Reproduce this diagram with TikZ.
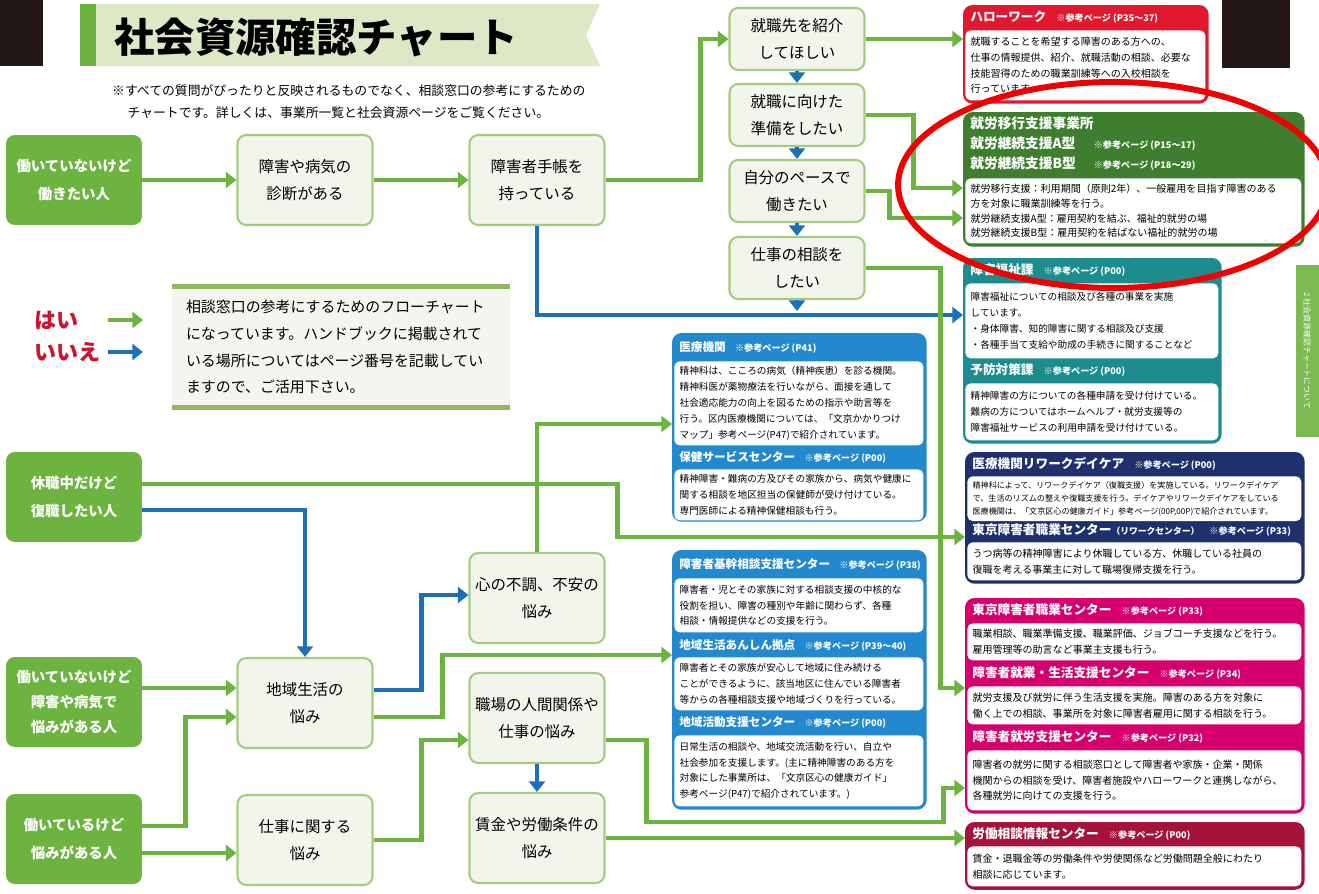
\documentclass[tikz,border=0pt]{standalone}
\usepackage{fontspec}
\setmainfont{Noto Sans CJK JP}
\usetikzlibrary{arrows.meta}

\definecolor{yesgreen}{HTML}{6CB33F}
\definecolor{nobl}{HTML}{1B70B8}
\definecolor{qfill}{HTML}{F2F5EC}
\definecolor{qline}{HTML}{A5CC7E}
\definecolor{bandgreen}{HTML}{DCE8C6}
\definecolor{legfill}{HTML}{F3F5EE}
\definecolor{legline}{HTML}{8DB85E}
\definecolor{haired}{HTML}{D0112B}
\definecolor{hwred}{HTML}{E1192F}
\definecolor{ikogreen}{HTML}{3E7E2E}
\definecolor{fukuteal}{HTML}{1C8C8E}
\definecolor{iryoblue}{HTML}{2389CF}
\definecolor{rwnavy}{HTML}{1E316E}
\definecolor{shokupink}{HTML}{D5006E}
\definecolor{rodored}{HTML}{A5133C}
\definecolor{ringred}{HTML}{F00000}
\definecolor{blackbox}{HTML}{231815}

\newcommand\bodyfont{\fontsize{5.7}{9}\selectfont}
\newcommand\mbodyfont{\fontsize{5.5}{9}\selectfont}
\newcommand\rwfont{\fontsize{4.6}{7.3}\selectfont}
\newcommand\hfont{\bfseries\fontsize{7.2}{8}\selectfont}
\newcommand\mhfont{\bfseries\fontsize{6.6}{8}\selectfont}
\newcommand\sanko[1]{\hspace{0.8em}{\fontsize{5.2}{6}\selectfont ※参考ページ (#1)}}

\begin{document}
\begin{tikzpicture}[x=0.02cm, y=-0.02cm,
    start/.style={fill=yesgreen, rounded corners=5pt, text=white, align=center, minimum width=2.72cm, minimum height=1.8cm, inner sep=1pt, font=\bfseries\fontsize{8.2}{15.5}\selectfont},
    ques/.style={draw=qline, line width=1.2pt, fill=qfill, rounded corners=5pt, align=center, minimum width=2.7cm, minimum height=1.8cm, inner sep=1pt, font=\fontsize{8.8}{15}\selectfont},
    yes/.style={draw=yesgreen, line width=2.8pt, -{Triangle[length=6pt, width=9pt]}},
    no/.style={draw=nobl, line width=2.8pt, -{Triangle[length=6pt, width=9pt]}},
    panel/.style={draw=#1, fill=#1, line width=1pt, rounded corners=5pt, anchor=north west, inner sep=0pt},
    phead/.style={text=white, anchor=west, inner sep=0pt, font=\hfont},
    pbody/.style={fill=white, anchor=north west, rounded corners=3pt, inner sep=3pt, align=left, font=\bodyfont},
    legtext/.style={text=haired, anchor=west, font=\bfseries\fontsize{12.5}{13}\selectfont}
]
\useasboundingbox (0,0) rectangle (1319,893);
\fill[white] (0,0) rectangle (1319,893);

% corner marks and side tab
\fill[blackbox] (0,0) rectangle (43,66);
\fill[blackbox] (1222,0) rectangle (1290,68);
\fill[yesgreen!90] (1296,265) rectangle (1319,437);
\node[rotate=-90, text=white, font=\fontsize{4.5}{5}\selectfont] (tab) at (1307,351) {2 社会資源確認チャートについて};

% title banner
\fill[bandgreen] (80,4) -- (600,4) -- (586,35) -- (600,66) -- (80,66) -- cycle;
\fill[yesgreen] (80,4) rectangle (96,66);
\node[anchor=west, font=\bfseries\fontsize{23}{24}\selectfont] (title) at (108,37) {社会資源確認チャート};
\node[anchor=north west, align=left, font=\fontsize{7.3}{12.5}\selectfont] (note) at (106,78) {※すべての質問がぴったりと反映されるものでなく、相談窓口の参考にするための\\\hspace{1.2em}チャートです。詳しくは、事業所一覧と社会資源ページをご覧ください。};

% legend
\node[legtext] (hai) at (28,320) {はい};
\node[legtext] (iie) at (28,352) {いいえ};
\draw[yes] ([xshift=1.6cm]hai.west) -- ++(35,0);
\draw[no] ([xshift=1.6cm]iie.west) -- ++(35,0);
\node[fill=legfill, minimum width=6.76cm, minimum height=2.4cm, text width=6.2cm, align=left, font=\fontsize{8.5}{15.3}\selectfont] (legend) at (341,347) {相談窓口の参考にするためのフローチャート\\になっています。ハンドブックに掲載されて\\いる場所についてはページ番号を記載してい\\ますので、ご活用下さい。};
\draw[legline, line width=2.5pt] (legend.north west) -- (legend.north east);
\draw[legline, line width=2.5pt] (legend.south west) -- (legend.south east);

% start boxes
\node[start] (s1) at (74,180) {働いていないけど\\働きたい人};
\node[start] (s2) at (74,497) {休職中だけど\\復職したい人};
\node[start, font=\bfseries\fontsize{8.2}{14.5}\selectfont] (s3) at (74,702) {働いていないけど\\障害や病気で\\悩みがある人};
\node[start] (s4) at (74,839) {働いているけど\\悩みがある人};

% question boxes
\node[ques] (q1) at (305,180) {障害や病気の\\診断がある};
\node[ques] (q2) at (537,180) {障害者手帳を\\持っている};
\node[ques, minimum height=1.24cm] (q3) at (797,39) {就職先を紹介\\してほしい};
\node[ques, minimum height=1.24cm] (q4) at (797,115) {就職に向けた\\準備をしたい};
\node[ques, minimum height=1.24cm] (q5) at (797,191) {自分のペースで\\働きたい};
\node[ques, minimum height=1.24cm] (q6) at (797,268) {仕事の相談を\\したい};
\node[ques] (q7) at (305,703) {地域生活の\\悩み};
\node[ques] (q8) at (305,840) {仕事に関する\\悩み};
\node[ques] (q9) at (537,598) {心の不調、不安の\\悩み};
\node[ques] (q10) at (537,718) {職場の人間関係や\\仕事の悩み};
\node[ques] (q11) at (537,838) {賃金や労働条件の\\悩み};

% Hello Work
\node[panel=hwred, minimum width=4.88cm, minimum height=1.94cm] (r1) at (963,5) {};
\node[phead] (r1h) at (970,17) {ハローワーク\sanko{P35～37}};
\node[pbody, text width=4.59cm, minimum height=1.4cm] (r1b) at (965,30) {就職することを希望する障害のある方への、\\仕事の情報提供、紹介、就職活動の相談、必要な\\技能習得のための職業訓練等への入校相談を\\行っています。};

% employment support offices
\node[panel=ikogreen, minimum width=6.8cm, minimum height=2.66cm] (r2) at (963,112) {};
\node[phead, anchor=north west, align=left, font=\bfseries\fontsize{7.8}{11.5}\selectfont] (r2h) at (970,116) {就労移行支援事業所\\\makebox[64pt][l]{就労継続支援A型}\sanko{P15～17}\\\makebox[64pt][l]{就労継続支援B型}\sanko{P18～29}};
\node[pbody, text width=6.51cm, minimum height=1.3cm, font=\fontsize{5.7}{8.4}\selectfont] (r2b) at (965,178) {就労移行支援：利用期間（原則2年）、一般雇用を目指す障害のある\\方を対象に職業訓練等を行う。\\就労継続支援A型：雇用契約を結ぶ、福祉的就労の場\\就労継続支援B型：雇用契約を結ばない福祉的就労の場};

% welfare section
\node[panel=fukuteal, minimum width=5.14cm, minimum height=3.68cm] (r3) at (963,258) {};
\node[phead] (r3h) at (970,270) {障害福祉課\sanko{P00}};
\node[pbody, text width=4.85cm, minimum height=1.5cm, font=\mbodyfont] (r3b) at (965,283) {障害福祉についての相談及び各種の事業を実施\\しています。\\・身体障害、知的障害に関する相談及び支援\\・各種手当て支給や助成の手続きに関することなど};
\node[phead] (r3h2) at (970,370) {予防対策課\sanko{P00}};
\node[pbody, text width=4.85cm, minimum height=1.14cm, font=\mbodyfont] (r3b2) at (965,383) {精神障害の方についての各種申請を受け付けている。\\難病の方についてはホームヘルプ・就労支援等の\\障害福祉サービスの利用申請を受け付けている。};

% medical
\node[panel=iryoblue, minimum width=5.06cm, minimum height=3.74cm] (m1) at (672,333) {};
\node[phead, font=\mhfont] (m1h) at (679,347) {医療機関\sanko{P41}};
\node[pbody, text width=4.77cm, minimum height=1.68cm, font=\mbodyfont] (m1b) at (674,361) {精神科は、こころの病気（精神疾患）を診る機関。\\精神科医が薬物療法を行いながら、面接を通して\\社会適応能力の向上を図るための指示や助言等を\\行う。区内医療機関については、「文京かかりつけ\\マップ」参考ページ(P47)で紹介されています。};
\node[phead, font=\mhfont] (m1h2) at (679,457) {保健サービスセンター\sanko{P00}};
\node[pbody, text width=4.77cm, minimum height=0.98cm, font=\mbodyfont] (m1b2) at (674,469) {精神障害・難病の方及びその家族から、病気や健康に\\関する相談を地区担当の保健師が受け付けている。\\専門医師による精神保健相談も行う。};

% rework
\node[panel=rwnavy, minimum width=6.76cm, minimum height=2.6cm] (r4) at (965,452) {};
\node[phead] (r4h) at (972,464) {医療機関リワークデイケア\sanko{P00}};
\node[pbody, text width=6.47cm, minimum height=0.86cm, font=\rwfont] (r4b) at (967,476) {精神科によって、リワークデイケア（復職支援）を実施している。リワークデイケア\\で、生活のリズムの整えや復職支援を行う。デイケアやリワークデイケアをしている\\医療機関は、「文京区心の健康ガイド」参考ページ(00P,00P)で紹介されています。};
\node[phead] (r4h2) at (972,530) {東京障害者職業センター{\fontsize{5}{6}\selectfont（リワークセンター）}\sanko{P33}};
\node[pbody, text width=6.47cm, minimum height=0.76cm] (r4b2) at (967,542) {うつ病等の精神障害により休職している方、休職している社員の\\復職を考える事業主に対して職場復帰支援を行う。};

% community life
\node[panel=iryoblue, minimum width=5.06cm, minimum height=5.16cm] (m2) at (672,550) {};
\node[phead, font=\mhfont] (m2h) at (679,564) {障害者基幹相談支援センター\sanko{P38}};
\node[pbody, text width=4.77cm, minimum height=1.08cm, font=\mbodyfont] (m2b) at (674,578) {障害者・児とその家族に対する相談支援の中核的な\\役割を担い、障害の種別や年齢に関わらず、各種\\相談・情報提供などの支援を行う。};
\node[phead, font=\mhfont] (m2h2) at (679,645) {地域生活あんしん拠点\sanko{P39～40}};
\node[pbody, text width=4.77cm, minimum height=1.06cm, font=\mbodyfont] (m2b2) at (674,657) {障害者とその家族が安心して地域に住み続ける\\ことができるように、該当地区に住んでいる障害者\\等からの各種相談支援や地域づくりを行っている。};
\node[phead, font=\mhfont] (m2h3) at (679,722) {地域活動支援センター\sanko{P00}};
\node[pbody, text width=4.77cm, minimum height=1.42cm, font=\mbodyfont] (m2b3) at (674,735) {日常生活の相談や、地域交流活動を行い、自立や\\社会参加を支援します。(主に精神障害のある方を\\対象にした事業所は、「文京区心の健康ガイド」\\参考ページ(P47)で紹介されています。)};

% job centres
\node[panel=shokupink, minimum width=6.76cm, minimum height=4.28cm] (r5) at (965,598) {};
\node[phead] (r5h) at (972,610) {東京障害者職業センター\sanko{P33}};
\node[pbody, text width=6.47cm, minimum height=0.74cm] (r5b) at (967,623) {職業相談、職業準備支援、職業評価、ジョブコーチ支援などを行う。\\雇用管理等の助言など事業主支援も行う。};
\node[phead] (r5h2) at (972,673) {障害者就業・生活支援センター\sanko{P34}};
\node[pbody, text width=6.47cm, minimum height=0.76cm] (r5b2) at (967,686) {就労支援及び就労に伴う生活支援を実施。障害のある方を対象に\\働く上での相談、事業所を対象に障害者雇用に関する相談を行う。};
\node[phead] (r5h3) at (972,737) {障害者就労支援センター\sanko{P32}};
\node[pbody, text width=6.47cm, minimum height=1.2cm] (r5b3) at (967,750) {障害者の就労に関する相談窓口として障害者や家族・企業・関係\\機関からの相談を受け、障害者施設やハローワークと連携しながら、\\各種就労に向けての支援を行う。};

% labour consultation
\node[panel=rodored, minimum width=6.76cm, minimum height=1.32cm] (r6) at (965,822) {};
\node[phead] (r6h) at (972,834) {労働相談情報センター\sanko{P00}};
\node[pbody, text width=6.47cm, minimum height=0.8cm] (r6b) at (967,846) {賃金・退職金等の労働条件や労使関係など労働問題全般にわたり\\相談に応じています。};

% "no" connectors
\draw[no] (q2.south) |- (r3.west |- 0,315);
\draw[no] (q3.south) -- (q4.north);
\draw[no] (q4.south) -- (q5.north);
\draw[no] (q5.south) -- (q6.north);
\draw[no] (q6.south) -- (q6.south |- 0,311);
\draw[no] (s2.east |- 0,510) -| (q7.north);
\draw[no] (q7.east |- 0,690) -- ++(48,0) |- (q9.west |- 0,595);
\draw[no] (q10.south) -- (q11.north);

% "yes" connectors
\draw[yes] (s1.east) -- (q1.west);
\draw[yes] (q1.east) -- (q2.west);
\draw[yes] (q2.east) -- ++(95,0) |- (q3.west);
\draw[yes] (q3.east) -- (q3.east -| r1.west);
\draw[yes] (q4.east) -- ++(48,0) |- (r2.west |- 0,188);
\draw[yes] (q5.east) -- ++(24,0) |- (r2.west |- 0,218);
\draw[yes] (q6.east) -- ++(75,0) |- (r5.west |- 0,688);
\draw[yes] (q9.north) |- (m1.west |- 0,424);
\draw[yes] (s2.east |- 0,484) -- ++(475,0) |- (r4.west |- 0,537);
\draw[yes] (s3.east |- 0,688) -- (q7.west |- 0,688);
\draw[yes] (s4.east |- 0,826) -- ++(43,0) |- (q7.west |- 0,717);
\draw[yes] (s4.east |- 0,853) -- (q8.west |- 0,853);
\draw[yes] (q7.east |- 0,717) -- ++(69,0) |- (m2.west |- 0,655);
\draw[yes] (q8.east) -- ++(48,0) |- (q10.west |- 0,740);
\draw[yes] (q10.east |- 0,740) -- ++(41,0) -- ++(0,82) -- ++(297,0) |- (r5.west |- 0,788);
\draw[yes] (q11.east) -- (q11.east -| r6.west);

% highlight ring
\draw[ringred, line width=3.4pt] (1113,185) ellipse [x radius=4.3cm, y radius=2.06cm];
\end{tikzpicture}
\end{document}
